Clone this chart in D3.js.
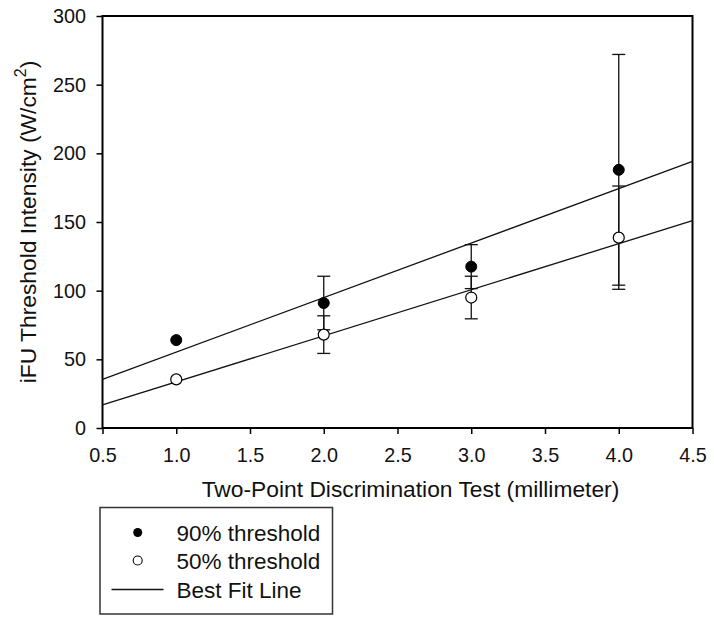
<!DOCTYPE html>
<html><head><meta charset="utf-8">
<script src="https://cdn.jsdelivr.net/npm/d3@7"></script>
<style>body{margin:0;background:#fff}svg{display:block;font-family:Arial,"Liberation Sans",sans-serif}</style>
</head><body>
<script>
const xVals = [1, 2, 3, 4];
const thr90 = [64, 91, 117.5, 188];
const err90 = [0, 19.5, 16, 84];
const thr50 = [35.4, 68, 95, 138.6];
const err50 = [0, 13.7, 15.5, 37.6];
const fitX = [0.5, 4.5];
const fit90 = [35.4, 194.2];
const fit50 = [16.8, 151];
const xTicks = [0.5, 1.0, 1.5, 2.0, 2.5, 3.0, 3.5, 4.0, 4.5];
const yTicks = [0, 50, 100, 150, 200, 250, 300];
const legendLabels = ["90% threshold", "50% threshold", "Best Fit Line"];

const W = 714, H = 624;
const L = 102.5, R = 692.5, T = 16, B = 428;
const svg = d3.select("body").append("svg").attr("width", W).attr("height", H);
const x = d3.scaleLinear().domain([0.5, 4.5]).range([L, R]);
const y = d3.scaleLinear().domain([0, 300]).range([B, T]);

// fit lines
const line = d3.line().x(d => x(d[0])).y(d => y(d[1]));
[fit90, fit50].forEach(f => {
  svg.append("path").datum(fitX.map((v, i) => [v, f[i]]))
    .attr("d", line).attr("fill", "none").attr("stroke", "#111").attr("stroke-width", 1.3);
});

// error bars
function errBars(vals, errs) {
  const g = svg.append("g").attr("stroke", "#111").attr("stroke-width", 1.3);
  xVals.forEach((xv, i) => {
    if (!errs[i]) return;
    const cx = x(xv), y1 = y(vals[i] + errs[i]), y0 = y(vals[i] - errs[i]);
    g.append("line").attr("x1", cx).attr("x2", cx).attr("y1", y1).attr("y2", y0);
    g.append("line").attr("x1", cx - 6.5).attr("x2", cx + 6.5).attr("y1", y1).attr("y2", y1);
    g.append("line").attr("x1", cx - 6.5).attr("x2", cx + 6.5).attr("y1", y0).attr("y2", y0);
  });
}
errBars(thr90, err90);
errBars(thr50, err50);

// points
svg.append("g").selectAll("circle").data(xVals).join("circle")
  .attr("cx", d => x(d)).attr("cy", (d, i) => y(thr90[i])).attr("r", 5.5)
  .attr("fill", "#000").attr("stroke", "#000").attr("stroke-width", 1);
svg.append("g").selectAll("circle").data(xVals).join("circle")
  .attr("cx", d => x(d)).attr("cy", (d, i) => y(thr50[i])).attr("r", 5.5)
  .attr("fill", "#fff").attr("stroke", "#000").attr("stroke-width", 1.2);

// frame
svg.append("rect").attr("x", L).attr("y", T).attr("width", R - L).attr("height", B - T)
  .attr("fill", "none").attr("stroke", "#000").attr("stroke-width", 2);

// axes
const xAxis = svg.append("g").attr("transform", `translate(0,${B})`)
  .call(d3.axisBottom(x).tickValues(xTicks).tickFormat(d3.format(".1f")).tickSize(6).tickPadding(14));
const yAxis = svg.append("g").attr("transform", `translate(${L},0)`)
  .call(d3.axisLeft(y).tickValues(yTicks).tickSize(6).tickPadding(10.5));
[xAxis, yAxis].forEach(a => {
  a.select(".domain").remove();
  a.selectAll(".tick line").attr("stroke", "#000").attr("stroke-width", 1.5);
  a.selectAll("text").attr("font-size", 19.8).attr("fill", "#111").attr("font-family", "Arial, 'Liberation Sans', sans-serif");
});

// axis titles
svg.append("text").attr("x", 410.5).attr("y", 497).attr("text-anchor", "middle")
  .attr("font-size", 22.8).attr("fill", "#111").text("Two-Point Discrimination Test (millimeter)");
const yt = svg.append("text").attr("transform", `translate(35.5,${(T + B) / 2}) rotate(-90)`)
  .attr("text-anchor", "middle").attr("font-size", 22.8).attr("fill", "#111");
yt.append("tspan").text("iFU Threshold Intensity (W/cm");
yt.append("tspan").attr("dy", -10).attr("font-size", 16).text("2");
yt.append("tspan").attr("dy", 10).text(")");

// legend
const lg = svg.append("g");
lg.append("rect").attr("x", 100).attr("y", 507.5).attr("width", 232.5).attr("height", 106.5)
  .attr("fill", "#fff").attr("stroke", "#333").attr("stroke-width", 1.5);
const rows = [532.5, 560.5, 589.5];
lg.append("circle").attr("cx", 137.7).attr("cy", rows[0]).attr("r", 4.5).attr("fill", "#000");
lg.append("circle").attr("cx", 137.7).attr("cy", rows[1]).attr("r", 4.5).attr("fill", "#fff").attr("stroke", "#000").attr("stroke-width", 1.1);
lg.append("line").attr("x1", 111.5).attr("x2", 163.5).attr("y1", rows[2]).attr("y2", rows[2]).attr("stroke", "#111").attr("stroke-width", 1.3);
legendLabels.forEach((t, i) => {
  lg.append("text").attr("x", 176.5).attr("y", rows[i]).attr("dy", "0.36em")
    .attr("font-size", 22.5).attr("fill", "#111").text(t);
});
</script>
</body></html>
